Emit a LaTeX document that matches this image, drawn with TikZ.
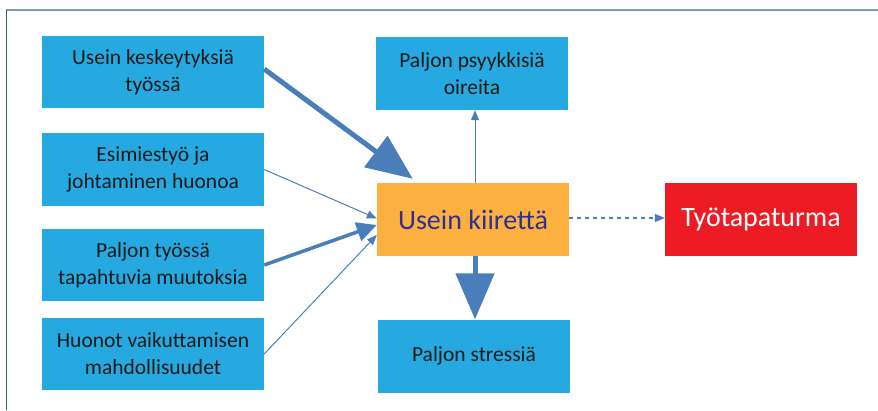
\documentclass[tikz,border=0pt]{standalone}
\usepackage{fontspec}
\setmainfont{Carlito}
\usetikzlibrary{arrows.meta}
\definecolor{boxblue}{HTML}{25A9E0}
\definecolor{boxorange}{HTML}{FBB040}
\definecolor{boxred}{HTML}{ED1C24}
\definecolor{arrowblue}{HTML}{4A7EBB}
\definecolor{txtdark}{HTML}{1A1A1A}
\definecolor{txtnavy}{HTML}{2E3192}
\definecolor{frametop}{HTML}{7F9CB8}
\definecolor{frameleft}{HTML}{2F5F8F}
\tikzset{
  bluebox/.style={fill=boxblue, draw=none, minimum width=222pt, minimum height=72pt, align=center, inner sep=0pt, text=txtdark, font=\fontsize{21.5}{27}\selectfont},
  midbox/.style={bluebox, minimum width=192pt, minimum height=73pt},
  bigbox/.style={draw=none, minimum width=192pt, minimum height=73pt, align=center, inner sep=0pt, font=\fontsize{28}{34}\selectfont},
  thinarrow/.style={draw=arrowblue, line width=1pt, -{Triangle[length=10pt,width=8pt]}},
  medarrow/.style={draw=arrowblue, line width=3.5pt, -{Triangle[length=20pt,width=19pt]}},
  thickarrow/.style={draw=arrowblue, line width=5pt, -{Triangle[length=46pt,width=38pt]}},
  dotarrow/.style={draw=arrowblue, line width=1.2pt, dash pattern=on 4pt off 4pt, -{Triangle[length=10pt,width=8pt]}}
}
\begin{document}
\begin{tikzpicture}[x=1pt, y=-1pt]
\useasboundingbox (0,0) rectangle (878,410);
% frame
\draw[frametop, line width=2pt] (6,10) -- (878,10);
\draw[frameleft, line width=1pt] (6,10) -- (6,410);
% left boxes
\node[bluebox] (b1) at (153,72) {Usein keskeytyksiä\\työssä};
\node[bluebox, minimum height=73pt] (b2) at (153,169.5) {Esimiestyö ja\\johtaminen huonoa};
\node[bluebox] (b3) at (153,265) {Paljon työssä\\tapahtuvia muutoksia};
\node[bluebox, minimum height=72pt] (b4) at (153,354) {Huonot vaikuttamisen\\mahdollisuudet};
% middle column
\node[midbox] (p) at (472,73.5) {Paljon psyykkisiä\\oireita};
\node[bigbox, fill=boxorange, text=txtnavy] (o) at (473,219.5) {Usein kiirettä};
\node[midbox, minimum height=73pt] (s) at (474,356) {Paljon stressiä};
% right
\node[bigbox, fill=boxred, text=white] (r) at (761,219.5) {Työtapaturma};
% connectors
\draw[thickarrow] ([yshift=3pt]b1.east) -- ([xshift=36pt,yshift=4pt]o.north west);
\draw[thinarrow] (b2.east) -- ([yshift=1pt]o.west);
\draw[medarrow] (b3.east) -- ([yshift=-5.5pt]o.west);
\draw[thinarrow] (b4.east) -- ([yshift=-15.5pt]o.west);
\draw[thinarrow] ([xshift=2pt]o.north) -- ([xshift=2pt]o.north |- p.south);
\draw[thickarrow] ([xshift=2pt]o.south) -- ([xshift=2pt]o.south |- s.north);
\draw[dotarrow] ([yshift=1.5pt]o.east) -- ([yshift=1.5pt]r.west);
\end{tikzpicture}
\end{document}
